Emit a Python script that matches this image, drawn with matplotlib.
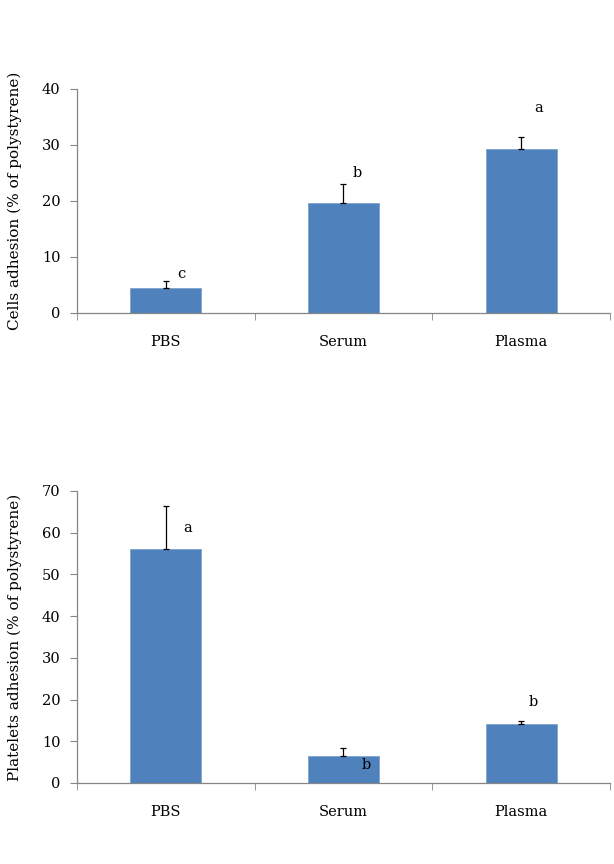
import matplotlib
matplotlib.use("Agg")
import matplotlib.pyplot as plt
import numpy as np

categories = ["PBS", "Serum", "Plasma"]
cells_vals = [4.5, 19.7, 29.3]
cells_err = [1.1, 3.3, 2.2]
cells_letters = ["c", "b", "a"]
cells_letter_pos = [(0.09, 7.0), (1.08, 25.0), (2.10, 36.6)]

plate_vals = [56.0, 6.5, 14.1]
plate_err = [10.3, 1.9, 0.8]
plate_letters = ["a", "b", "b"]
plate_letter_pos = [(0.12, 61.1), (1.13, 4.3), (2.07, 19.5)]

plt.rcParams['font.family'] = ['DejaVu Serif']
BAR = "#4F81BD"
AXC = "#868686"

fig = plt.figure(figsize=(6.14, 8.64), dpi=100)

def draw(ax, vals, errs, letters, lpos, ymax, ystep, ylabel):
    x = np.arange(len(categories))
    ax.bar(x, vals, width=0.4, color=BAR, edgecolor="#7FA3D0", linewidth=0.6, zorder=2)
    ax.errorbar(x, vals, yerr=[np.zeros(len(vals)), errs], fmt="none",
                ecolor="black", elinewidth=0.9, capsize=2, capthick=0.9, zorder=3)
    for t, (lx, ly) in zip(letters, lpos):
        ax.text(lx, ly, t, ha="center", va="center", fontsize=10.5)
    ax.set_xlim(-0.5, 2.5)
    ax.set_ylim(0, ymax)
    ax.set_yticks(np.arange(0, ymax + 1, ystep))
    ax.set_xticks(x)
    ax.set_xticklabels(categories, fontsize=10.5)
    ax.set_xticks([-0.5, 0.5, 1.5, 2.5], minor=True)
    ax.tick_params(axis="x", which="major", length=0, pad=16)
    ax.tick_params(axis="x", which="minor", length=5, color=AXC, direction="out")
    ax.tick_params(axis="y", length=5, color=AXC, direction="out", labelsize=10.5, pad=7)
    for s in ["top", "right"]:
        ax.spines[s].set_visible(False)
    for s in ["left", "bottom"]:
        ax.spines[s].set_color(AXC)
        ax.spines[s].set_linewidth(0.9)
    ax.set_ylabel(ylabel, fontsize=11)
    ax.yaxis.set_label_coords(-0.104, 0.5)

ax1 = fig.add_axes([0.1254, 0.638, 0.868, 0.259])
draw(ax1, cells_vals, cells_err, cells_letters, cells_letter_pos, 40, 10,
     "Cells adhesion (% of polystyrene)")

ax2 = fig.add_axes([0.1254, 0.0938, 0.868, 0.338])
draw(ax2, plate_vals, plate_err, plate_letters, plate_letter_pos, 70, 10,
     "Platelets adhesion (% of polystyrene)")

fig.savefig("out.png", dpi=100)
